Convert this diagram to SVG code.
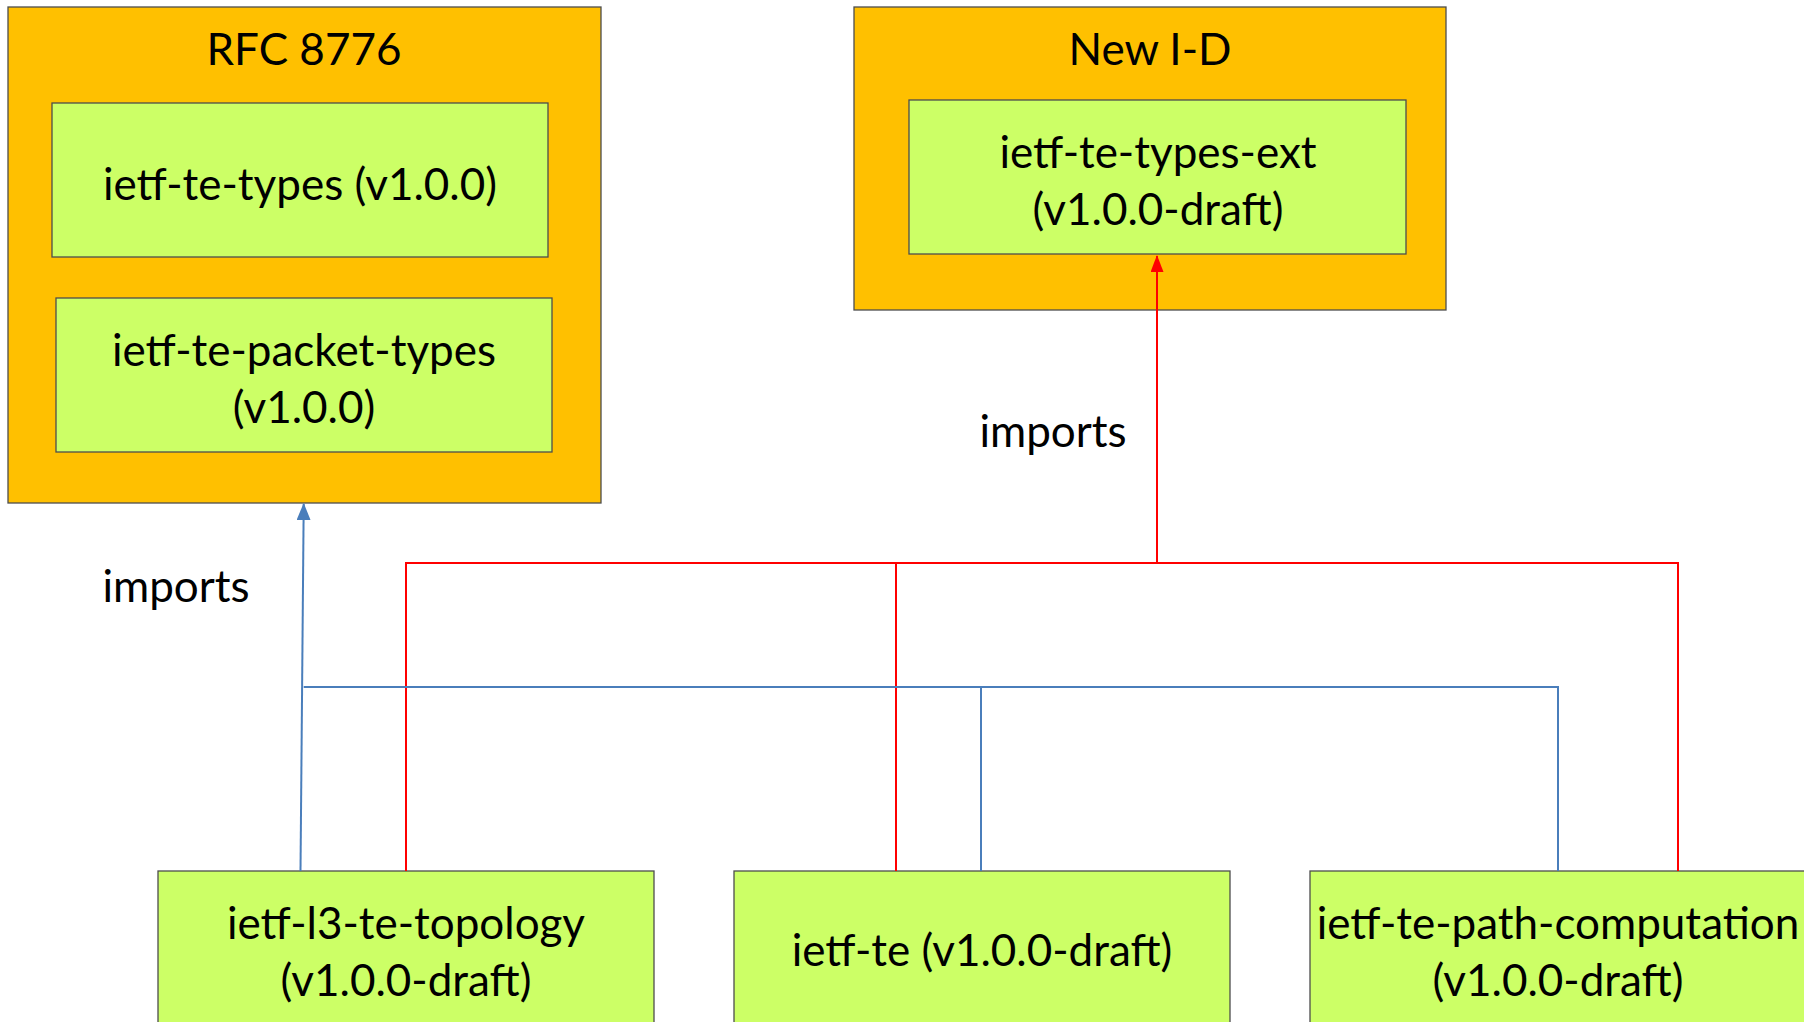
<svg xmlns="http://www.w3.org/2000/svg" width="1804" height="1022" viewBox="0 0 1804 1022">
<style>
.grp{fill:#FFC000;stroke:#4d4d4d;stroke-width:1.3}
.mod{fill:#CCFF66;stroke:#4d4d4d;stroke-width:1.3}
text{font-family:Lato,"Carlito","Liberation Sans",sans-serif;font-size:44px;fill:#000;text-anchor:middle}
.red{fill:none;stroke:#FF0000;stroke-width:2}
.blue{fill:none;stroke:#4A7EBB;stroke-width:2}
</style>
<defs>
<marker id="ar" markerUnits="userSpaceOnUse" markerWidth="17" markerHeight="13" refX="16" refY="6.5" orient="auto" viewBox="0 0 17 13">
<path d="M17 6.5 L0 0 L0 13 Z" fill="#FF0000"/>
</marker>
<marker id="ab" markerUnits="userSpaceOnUse" markerWidth="17" markerHeight="14" refX="16" refY="7" orient="auto" viewBox="0 0 17 14">
<path d="M17 7 L0 0 L0 14 Z" fill="#4A7EBB"/>
</marker>
</defs>
<rect width="1804" height="1022" fill="#fff"/>
<g id="rfc8776">
<rect class="grp" x="8" y="7" width="593" height="496"/>
<text x="304" y="65">RFC 8776</text>
</g>
<g id="ietf-te-types">
<rect class="mod" x="52" y="103" width="496" height="154"/>
<text x="300" y="200">ietf-te-types (v1.0.0)</text>
</g>
<g id="ietf-te-packet-types">
<rect class="mod" x="56" y="298" width="496" height="154"/>
<text x="304" y="366">ietf-te-packet-types</text>
<text x="304" y="423">(v1.0.0)</text>
</g>
<g id="new-id">
<rect class="grp" x="854" y="7" width="592" height="303"/>
<text x="1150" y="65">New I-D</text>
</g>
<g id="ietf-te-types-ext">
<rect class="mod" x="909" y="100" width="497" height="154"/>
<text x="1158" y="168">ietf-te-types-ext</text>
<text x="1158" y="225">(v1.0.0-draft)</text>
</g>
<g id="ietf-l3-te-topology">
<rect class="mod" x="158" y="871" width="496" height="160"/>
<text x="406" y="939">ietf-l3-te-topology</text>
<text x="406" y="996">(v1.0.0-draft)</text>
</g>
<g id="ietf-te">
<rect class="mod" x="734" y="871" width="496" height="160"/>
<text x="982" y="966">ietf-te (v1.0.0-draft)</text>
</g>
<g id="ietf-te-path-computation">
<rect class="mod" x="1310" y="871" width="510" height="160"/>
<text x="1558" y="939">ietf-te-path-computation</text>
<text x="1558" y="996">(v1.0.0-draft)</text>
</g>
<g id="connectors">
<polyline class="red" points="406,871 406,563 1678,563 1678,871"/>
<line class="red" x1="896" y1="563" x2="896" y2="871"/>
<line class="red" x1="1157" y1="563" x2="1157" y2="256" marker-end="url(#ar)"/>
<line class="blue" x1="300.5" y1="871" x2="303.7" y2="504" marker-end="url(#ab)"/>
<polyline class="blue" points="303.7,687 1558,687 1558,871"/>
<line class="blue" x1="981" y1="687" x2="981" y2="871"/>
<text x="1053" y="447">imports</text>
<text x="176" y="602">imports</text>
</g>
</svg>
